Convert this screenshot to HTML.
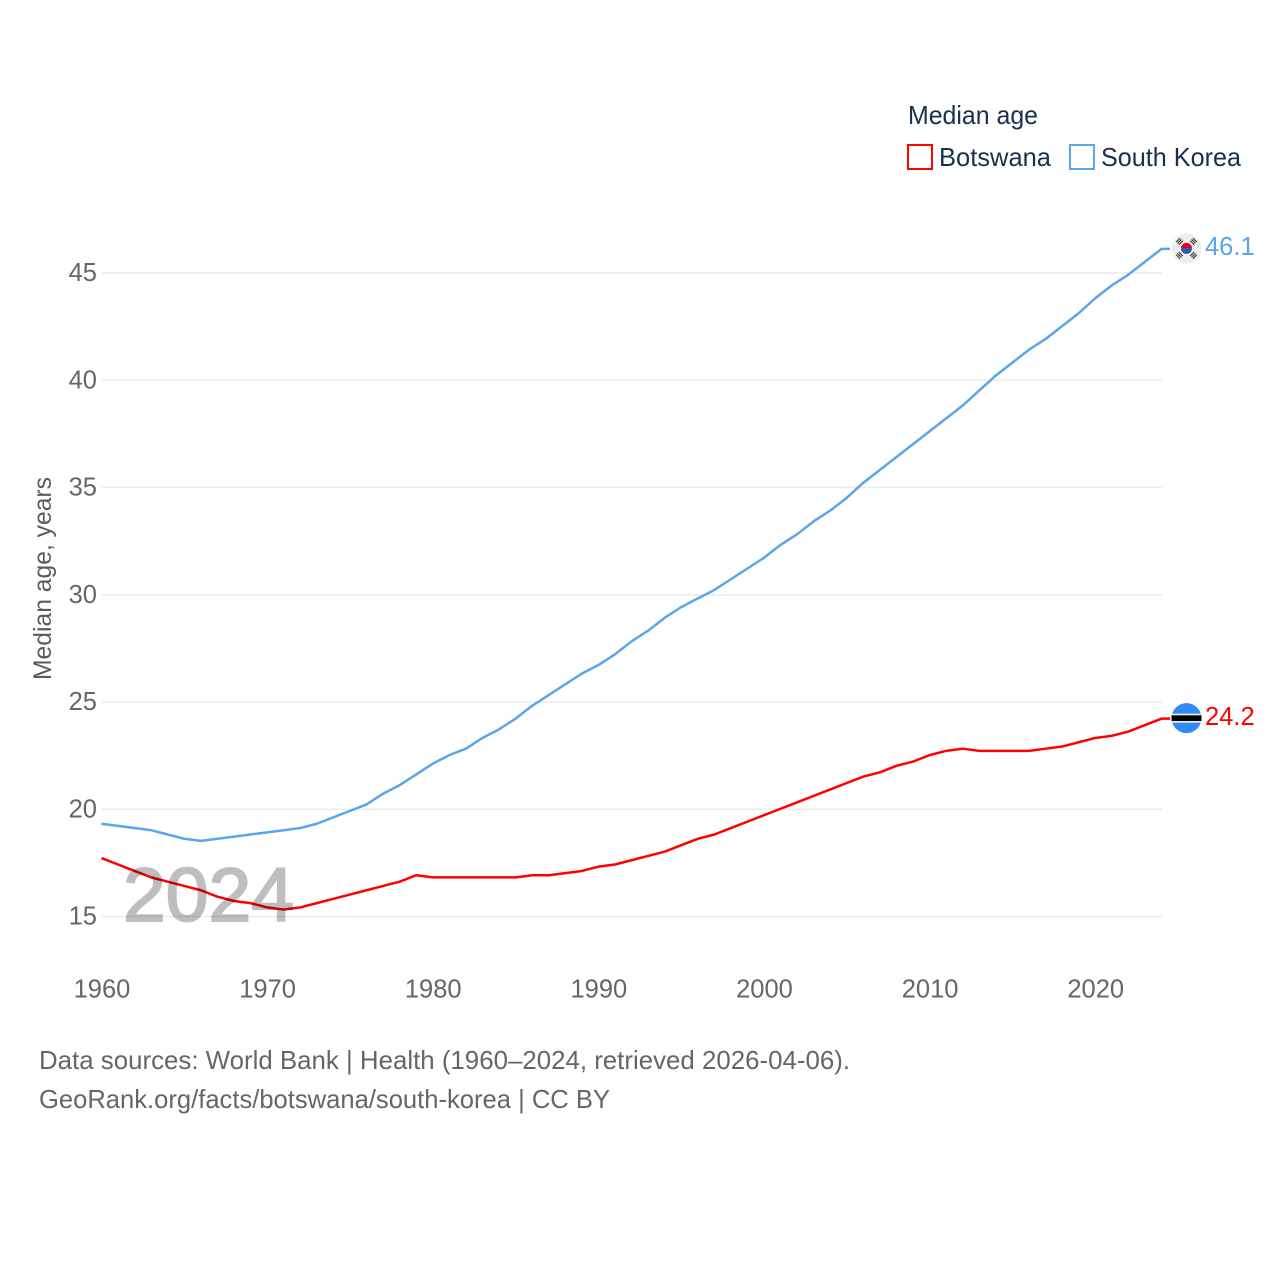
<!DOCTYPE html>
<html lang="en">
<head>
<meta charset="utf-8">
<title>Median age: Botswana and South Korea</title>
<style>
html,body{margin:0;padding:0;background:#fff;width:1280px;height:1280px;overflow:hidden}
svg{display:block}
text{font-family:"Liberation Sans",sans-serif}
</style>
</head>
<body>
<svg id="chart" width="1280" height="1280" viewBox="0 0 1280 1280" xmlns="http://www.w3.org/2000/svg">
  <g id="grid"></g>
  <g id="yticks"></g>
  <g id="xticks"></g>
  <text transform="translate(51,680) rotate(-90)" font-size="25" fill="#5b5b5b" textLength="203" lengthAdjust="spacingAndGlyphs">Median age, years</text>
  <g id="series"></g>
  <text x="123" y="921" font-size="76" fill="#000" stroke="#000" stroke-width="2" opacity="0.25" textLength="171" lengthAdjust="spacingAndGlyphs">2024</text>
  <g id="endmarks"></g>
  <g>
    <text x="908" y="124" font-size="26" fill="#18304f" textLength="130" lengthAdjust="spacingAndGlyphs">Median age</text>
    <rect x="908" y="145" width="24" height="24" fill="none" stroke="#ff0000" stroke-width="2"/>
    <text x="939" y="166" font-size="26" fill="#18304f" textLength="112" lengthAdjust="spacingAndGlyphs">Botswana</text>
    <rect x="1070" y="145" width="24" height="24" fill="none" stroke="#5ba4ee" stroke-width="2"/>
    <text x="1101" y="166" font-size="26" fill="#18304f" textLength="140" lengthAdjust="spacingAndGlyphs">South Korea</text>
  </g>
  <text x="39" y="1069" font-size="26" fill="#666666" textLength="811" lengthAdjust="spacingAndGlyphs">Data sources: World Bank | Health (1960–2024, retrieved 2026-04-06).</text>
  <text x="39" y="1108" font-size="26" fill="#666666" textLength="571" lengthAdjust="spacingAndGlyphs">GeoRank.org/facts/botswana/south-korea | CC BY</text>
</svg>
<script>
const years = [1960,1961,1962,1963,1964,1965,1966,1967,1968,1969,1970,1971,1972,1973,1974,1975,1976,1977,1978,1979,1980,1981,1982,1983,1984,1985,1986,1987,1988,1989,1990,1991,1992,1993,1994,1995,1996,1997,1998,1999,2000,2001,2002,2003,2004,2005,2006,2007,2008,2009,2010,2011,2012,2013,2014,2015,2016,2017,2018,2019,2020,2021,2022,2023,2024];
const botswana = [17.7,17.4,17.1,16.8,16.6,16.4,16.2,15.9,15.7,15.6,15.4,15.3,15.4,15.6,15.8,16.0,16.2,16.4,16.6,16.9,16.8,16.8,16.8,16.8,16.8,16.8,16.9,16.9,17.0,17.1,17.3,17.4,17.6,17.8,18.0,18.3,18.6,18.8,19.1,19.4,19.7,20.0,20.3,20.6,20.9,21.2,21.5,21.7,22.0,22.2,22.5,22.7,22.8,22.7,22.7,22.7,22.7,22.8,22.9,23.1,23.3,23.4,23.6,23.9,24.2];
const southKorea = [19.3,19.2,19.1,19.0,18.8,18.6,18.5,18.6,18.7,18.8,18.9,19.0,19.1,19.3,19.6,19.9,20.2,20.7,21.1,21.6,22.1,22.5,22.8,23.3,23.7,24.2,24.8,25.3,25.8,26.3,26.7,27.2,27.8,28.3,28.9,29.4,29.8,30.2,30.7,31.2,31.7,32.3,32.8,33.4,33.9,34.5,35.2,35.8,36.4,37.0,37.6,38.2,38.8,39.5,40.2,40.8,41.4,41.9,42.5,43.1,43.8,44.4,44.9,45.5,46.1];
const yTickValues = [15,20,25,30,35,40,45];
const xTickValues = [1960,1970,1980,1990,2000,2010,2020];

const NS = 'http://www.w3.org/2000/svg';
function x(year){ return 101.5 + (year - 1960) * (1161.5 - 101.5) / 64; }
function y(v){ return 916 - (v - 15) * (916 - 272.5) / 30; }
function make(tag, attrs, parent, txt){
  const el = document.createElementNS(NS, tag);
  for (const k in attrs) el.setAttribute(k, attrs[k]);
  if (txt !== undefined) el.textContent = txt;
  parent.appendChild(el);
  return el;
}

const grid = document.getElementById('grid');
const yt = document.getElementById('yticks');
const xt = document.getElementById('xticks');
yTickValues.forEach(v => {
  const g = make('line', {x1:102, x2:1162, y1:y(v)+0.5, y2:y(v)+0.5, stroke:'#ebebeb', 'stroke-width':1.5}, grid);
  
  
  const t = make('text', {x:97, y:y(v)+8.5, 'text-anchor':'end', 'font-size':25.5, fill:'#666666'}, yt, String(v));
  
  
});
xTickValues.forEach(v => {
  const t = make('text', {x:x(v)+0.5, y:997.5, 'text-anchor':'middle', 'font-size':25.5, fill:'#666666'}, xt, String(v));
  
  
});

const series = document.getElementById('series');
function drawLine(values, color, name){
  const pts = values.map((v, i) => x(years[i]).toFixed(2) + ',' + y(v).toFixed(2));
  const last = values[values.length - 1];
  pts.push('1170,' + y(last).toFixed(2));
  const p = make('polyline', {points:pts.join(' '), fill:'none', stroke:color, 'stroke-width':2.5, 'stroke-linejoin':'round'}, series);
  
  
}
drawLine(southKorea, '#5ba4ee', 'line-south-korea');
drawLine(botswana, '#ff0000', 'line-botswana');

const end = document.getElementById('endmarks');
const krY = y(southKorea[southKorea.length - 1]) - 0.5;
const bwY = y(botswana[botswana.length - 1]) - 0.5;

// South Korea flag
const kr = make('g', {transform:'translate(1186.5,' + krY + ')'}, end);


make('circle', {r:15, fill:'#eeeeee'}, kr);
make('path', {d:'M-5.5 0A5.5 5.5 0 0 1 5.5 0Z', fill:'#e4002b'}, kr);
make('path', {d:'M-5.5 0A5.5 5.5 0 0 0 5.5 0Z', fill:'#1f5fc0'}, kr);
[[-7,-7,-45],[7,-7,45],[-7,7,45],[7,7,-45]].forEach(c => {
  const b = make('g', {transform:'translate(' + c[0] + ',' + c[1] + ') rotate(' + c[2] + ')'}, kr);
  [-1.9,0,1.9].forEach(d => make('rect', {x:-2.8, y:d-0.55, width:5.6, height:1.1, fill:'#333'}, b));
});

// Botswana flag
const bw = make('g', {transform:'translate(1186.5,' + bwY + ')'}, end);


make('circle', {r:15, fill:'#338af3'}, bw);
make('rect', {x:-15, y:-4.5, width:30, height:9, fill:'#e8e8e8'}, bw);
make('rect', {x:-15, y:-2.8, width:30, height:5.6, fill:'#000000'}, bw);

const krLabel = make('text', {x:1205, y:krY+6.5, 'font-size':25.5, fill:'#5ba4ee'}, end, southKorea[southKorea.length - 1].toFixed(1));


const bwLabel = make('text', {x:1205, y:bwY+7, 'font-size':25.5, fill:'#ff0000'}, end, botswana[botswana.length - 1].toFixed(1));


</script>
</body>
</html>
